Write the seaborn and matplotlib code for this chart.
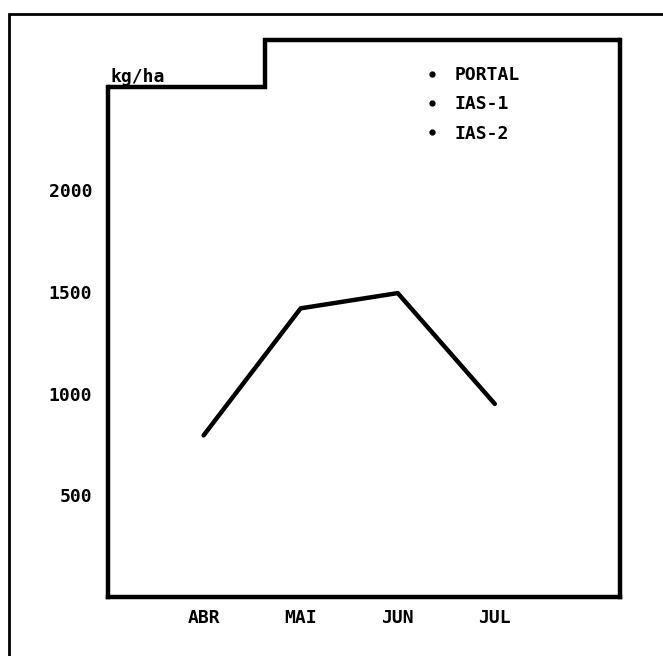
import matplotlib
matplotlib.use("Agg")
import matplotlib.pyplot as plt
from matplotlib.lines import Line2D
from matplotlib.patches import Rectangle
import pandas as pd
import seaborn as sns

sns.set_theme(style="white")
plt.rcParams["font.family"] = ["DejaVu Sans Mono", "DejaVu Sans"]
plt.rcParams["font.weight"] = "bold"
plt.rcParams["text.color"] = "black"

# data
meses = ["ABR", "MAI", "JUN", "JUL"]
rendimento = [795, 1420, 1495, 950]  # kg/ha
yticks = [500, 1000, 1500, 2000]
cultivares = ["PORTAL", "IAS-1", "IAS-2"]

W, H = 663, 656
FS = 13
fig = plt.figure(figsize=(W / 100, H / 100), dpi=100)
fig.patch.set_facecolor("white")

# outer frame of the scanned page (runs off the right and bottom edges)
fig.patches.append(Rectangle((9 / W, -0.05), 1.2, 1 - 14 / H + 0.05, transform=fig.transFigure,
                             fill=False, edgecolor="black", linewidth=2.0))

ax = fig.add_axes([108 / W, (H - 597) / H, (620 - 108) / W, (597 - 40) / H])
df = pd.DataFrame({"mes": meses, "kg": rendimento})
sns.lineplot(data=df, x="mes", y="kg", ax=ax, color="black", linewidth=3.2, sort=False)

ymax = 2740
ax.set_ylim(0, ymax)
ax.set_xlim(-0.985, 4.29)
ax.set_yticks(yticks)
ax.set_xticks(range(len(meses)))
ax.set_xticklabels(meses)
ax.set_xlabel("")
ax.set_ylabel("")
ax.tick_params(axis="both", length=3, width=2, direction="inout", colors="black", labelsize=FS)
ax.tick_params(axis="y", pad=10)
ax.tick_params(axis="x", pad=7)

for s in ["left", "bottom", "right"]:
    ax.spines[s].set_visible(True)
    ax.spines[s].set_color("black")
    ax.spines[s].set_linewidth(3.2)
ax.spines["top"].set_visible(False)
step_y = 2507 / ymax
ax.spines["left"].set_bounds(0, 2507)
ax.plot([0, 0.307, 0.307, 1], [step_y, step_y, 1, 1], transform=ax.transAxes,
        color="black", linewidth=3.2, clip_on=False, solid_joinstyle="miter")

fig.text(110 / W, 1 - 77 / H, "kg/ha", fontsize=FS, fontweight="bold", color="black",
         va="center", ha="left")

handles = [Line2D([], [], marker="o", markersize=3.5, color="black", linestyle="none") for _ in cultivares]
leg = ax.legend(handles, cultivares, loc="upper left", bbox_to_anchor=(0.584, 0.982),
                frameon=False, handlelength=1.0, handletextpad=0.75, labelspacing=0.62,
                prop={"family": "DejaVu Sans Mono", "weight": "bold", "size": FS})
for t in leg.get_texts():
    t.set_color("black")

fig.savefig("out.png", dpi=100, facecolor="white")
